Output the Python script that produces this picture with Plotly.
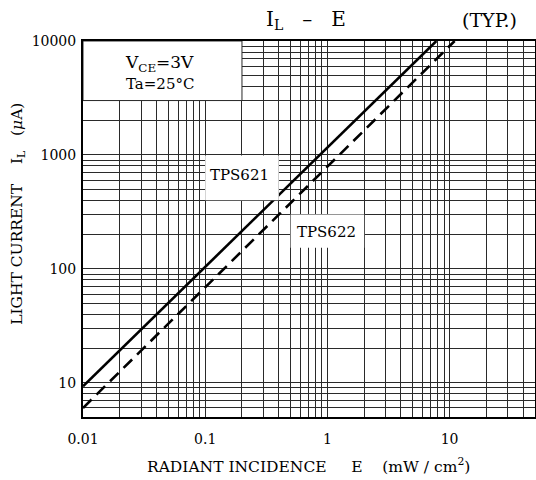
import plotly.graph_objects as go

# ---- data ----
e_tps621 = [0.01, 7.8]          # mW/cm^2
il_tps621 = [9.3, 10000]        # uA
e_tps622 = [0.01, 11.0]
il_tps622 = [6.0, 10000]

x_tick_labels = ["0.01", "0.1", "1", "10"]
y_tick_labels = ["10", "100", "1000", "10000"]

FONT = "DejaVu Serif"
GRID = "#2a2a2a"
SP = "\u00a0"

# grid values (1..9 per decade)
x_grid = []
for dec in [0.01, 0.1, 1, 10]:
    for m in range(1, 10):
        v = round(m * dec, 6)
        if v <= 50:
            x_grid.append(v)
y_grid = [5, 6, 7, 8, 9]
for dec in [10, 100, 1000]:
    for m in range(1, 10):
        y_grid.append(m * dec)
y_grid.append(10000)

def lab(vals, labels):
    out = []
    for v in vals:
        s = ("%g" % v)
        out.append(s if s in labels else "")
    return out

fig = go.Figure()
fig.add_trace(go.Scatter(x=e_tps621, y=il_tps621, mode="lines",
                         line=dict(color="black", width=2.6), showlegend=False))
fig.add_trace(go.Scatter(x=e_tps622, y=il_tps622, mode="lines",
                         line=dict(color="black", width=2.6, dash="12px,7px"), showlegend=False))

fig.update_layout(
    width=536, height=480,
    margin=dict(l=83, r=1, t=41, b=63),
    paper_bgcolor="white", plot_bgcolor="white",
    font=dict(family=FONT, color="black", size=14),
    showlegend=False,
)
fig.update_xaxes(type="log", range=[-2, 1.69897], tickvals=x_grid,
                 ticktext=lab(x_grid, x_tick_labels), ticks="",
                 showgrid=True, gridcolor=GRID, gridwidth=1,
                 showline=True, linecolor="black", linewidth=2, mirror=True,
                 zeroline=False, tickfont=dict(size=14, family=FONT),
                 ticklabelstandoff=8, automargin=False)
fig.update_yaxes(type="log", range=[0.69897, 4], tickvals=y_grid,
                 ticktext=lab(y_grid, y_tick_labels), ticks="",
                 showgrid=True, gridcolor=GRID, gridwidth=1,
                 showline=True, linecolor="black", linewidth=2, mirror=True,
                 zeroline=False, tickfont=dict(size=14, family=FONT),
                 ticklabelstandoff=2, automargin=False)

# white boxes
fig.add_shape(type="rect", xref="x", yref="y", x0=0.01, x1=0.2, y0=3000, y1=10000,
              fillcolor="white", line=dict(color=GRID, width=1), layer="above")
fig.add_shape(type="rect", xref="x", yref="y", x0=0.1, x1=0.4, y0=400, y1=990,
              fillcolor="white", line=dict(width=0), layer="above")
fig.add_shape(type="rect", xref="x", yref="y", x0=0.5, x1=2, y0=153, y1=300,
              fillcolor="white", line=dict(width=0), layer="above")

def f(size):
    return dict(size=size, family=FONT, color="black")

ann = [
    dict(text="I<sub>L</sub>" + SP * 3 + "\u2013" + SP * 3 + "E", x=0.493, y=1.056,
         xref="paper", yref="paper", showarrow=False, font=f(20),
         xanchor="center", yanchor="middle"),
    dict(text="(TYP.)", x=0.900, y=1.056, xref="paper", yref="paper",
         showarrow=False, font=f(19), xanchor="center", yanchor="middle"),
    dict(text="V<sub>CE</sub>=3V", x=-1.37, y=3.80, xref="x", yref="y",
         showarrow=False, font=f(17), xanchor="center", yanchor="middle"),
    dict(text="Ta=25\u00b0C", x=-1.37, y=3.62, xref="x", yref="y",
         showarrow=False, font=f(15), xanchor="center", yanchor="middle"),
    dict(text="TPS621", x=-0.718, y=2.825, xref="x", yref="y",
         showarrow=False, font=f(15), xanchor="center", yanchor="middle"),
    dict(text="TPS622", x=-0.005, y=2.327, xref="x", yref="y",
         showarrow=False, font=f(15), xanchor="center", yanchor="middle"),
    dict(text="RADIANT INCIDENCE" + SP * 5 + "E" + SP * 4 + "(mW" + SP + "/" + SP + "cm<sup>2</sup>)",
         x=0.499, y=-0.13, xref="paper", yref="paper", showarrow=False, font=f(15.5),
         xanchor="center", yanchor="middle"),
    dict(text="LIGHT CURRENT" + SP * 4 + "I<sub>L</sub>" + SP * 3 + "(<i>\u03bc</i>A)",
         x=-0.144, y=0.54, xref="paper", yref="paper", showarrow=False, font=f(15.5),
         textangle=-90, xanchor="center", yanchor="middle"),
]
fig.update_layout(annotations=ann)

fig.write_html("out.html", config={"displayModeBar": False},
               post_script="document.body.style.margin='0';document.body.style.padding='0';")
